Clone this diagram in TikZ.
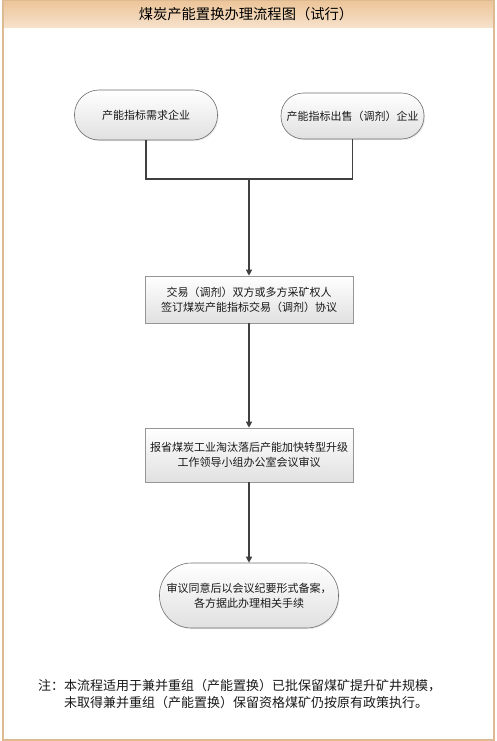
\documentclass[tikz,border=0pt]{standalone}
\usepackage{fontspec}
\setmainfont{Noto Sans CJK SC}
\usetikzlibrary{arrows.meta,shadows}
\definecolor{framec}{RGB}{222,186,146}
\definecolor{bandtop}{RGB}{236,196,152}
\definecolor{bandbot}{RGB}{246,226,204}
\definecolor{linec}{RGB}{64,64,64}
\definecolor{boxdraw}{RGB}{150,150,150}
\definecolor{termdraw}{RGB}{110,110,110}
\tikzset{
  boxbase/.style={shading=axis, top color=white, bottom color=black!12,
    inner sep=0pt, align=center, font=\fontsize{11}{15}\selectfont,
    text=black!90, drop shadow={opacity=0.18, shadow xshift=1pt, shadow yshift=-1.2pt}},
  termbox/.style={boxbase, draw=termdraw, line width=0.6pt, rectangle},
  procbox/.style={boxbase, draw=boxdraw, line width=0.6pt, rectangle},
  conn/.style={draw=linec, line width=1.3pt},
  arr/.style={conn, -{Triangle[length=6pt,width=6pt]}}
}
\begin{document}
\begin{tikzpicture}[x=1pt,y=-1pt]
\useasboundingbox (0,0) rectangle (497,741);
% title band
\shade[top color=bandtop, bottom color=bandbot] (3,0) rectangle (494,28);
\draw[framec!85!brown, line width=1pt] (3,0.5) -- (494,0.5);
\draw[framec, line width=1.6pt] (3,0) rectangle (494,740);
\node (title) at (246,14.5) {\fontsize{14.3}{16}\selectfont 煤炭产能置换办理流程图（试行）};
% nodes
\node[termbox, minimum width=143pt, minimum height=50pt, rounded corners=24.5pt] (t1) at (146,115) {产能指标需求企业};
\node[termbox, minimum width=143pt, minimum height=46pt, rounded corners=22.5pt] (t2) at (352.5,116) {产能指标出售（调剂）企业};
\node[procbox, minimum width=208pt, minimum height=47pt] (b1) at (249,299.5) {交易（调剂）双方或多方采矿权人\\签订煤炭产能指标交易（调剂）协议};
\node[procbox, minimum width=208pt, minimum height=54pt] (b2) at (249,455) {报省煤炭工业淘汰落后产能加快转型升级\\工作领导小组办公室会议审议};
\node[termbox, minimum width=179pt, minimum height=65pt, rounded corners=32pt] (t3) at (249,595.5) {审议同意后以会议纪要形式备案，\\各方据此办理相关手续};
% connectors
\coordinate (j) at (249,179);
\draw[conn] (t1.south) |- (j);
\draw[conn] (t2.south) |- (j);
\draw[arr] (j) -- (b1.north);
\draw[arr] (b1.south) -- (b2.north);
\draw[arr] (b2.south) -- (t3.north);
% note
\node[anchor=north west, inner sep=0pt, align=left, font=\fontsize{13}{17}\selectfont, text=black!90] (note) at (38,679)
  {注：本流程适用于兼并重组（产能置换）已批保留煤矿提升矿井规模，\\\hphantom{注：}未取得兼并重组（产能置换）保留资格煤矿仍按原有政策执行。};
\end{tikzpicture}
\end{document}
